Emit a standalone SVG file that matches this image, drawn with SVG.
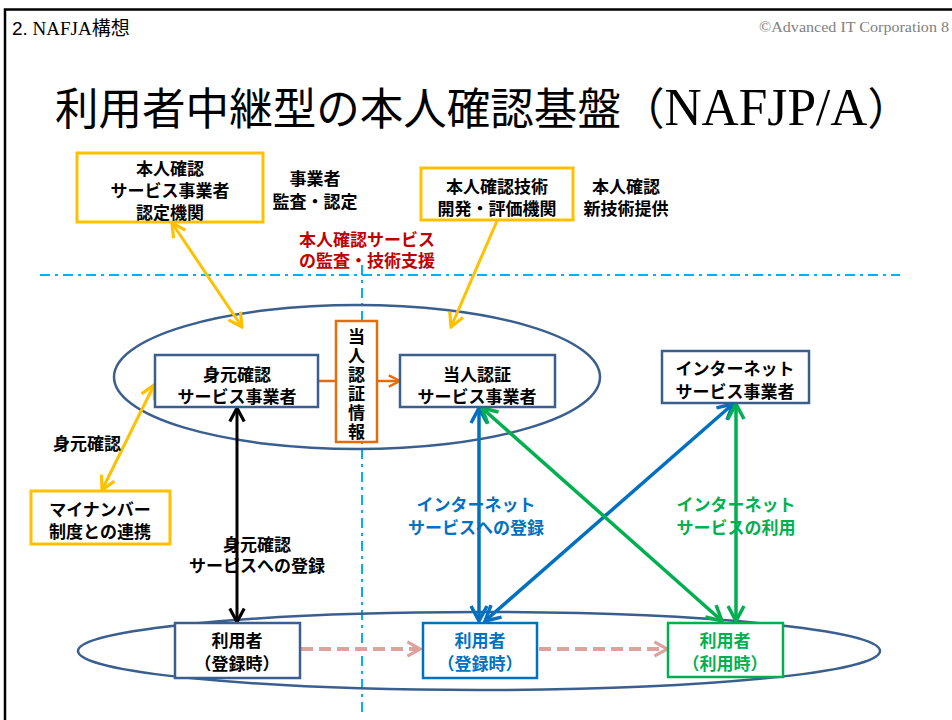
<svg xmlns="http://www.w3.org/2000/svg" width="952" height="720" viewBox="0 0 952 720">
<style>
.jp{font-family:"Noto Sans CJK JP","Noto Sans CJK SC",sans-serif;font-weight:bold;font-size:17px;text-anchor:middle;dominant-baseline:central}
.box{fill:#fff;stroke:#3A5F8F;stroke-width:2.5}
.obox{fill:#fff;stroke:#FFC000;stroke-width:3}
.ell{fill:none;stroke:#3A5F8F;stroke-width:2.5}
.dd{stroke:#00B0F0;stroke-width:2;stroke-dasharray:10 5 3 5;fill:none}
</style>
<defs>
<marker id="m-or" viewBox="0 0 20 20" refX="18" refY="10" markerWidth="18" markerHeight="18" markerUnits="userSpaceOnUse" orient="auto-start-reverse"><path d="M3,2 L18,10 L3,18" fill="none" stroke="#FFC000" stroke-width="3.5"/></marker>
<marker id="m-dor" viewBox="0 0 20 20" refX="18" refY="10" markerWidth="16" markerHeight="16" markerUnits="userSpaceOnUse" orient="auto-start-reverse"><path d="M4,3 L18,10 L4,17" fill="none" stroke="#E46C0A" stroke-width="3"/></marker>
<marker id="m-bk" viewBox="0 0 20 20" refX="18" refY="10" markerWidth="18" markerHeight="18" markerUnits="userSpaceOnUse" orient="auto-start-reverse"><path d="M3,2 L18,10 L3,18" fill="none" stroke="#000" stroke-width="3.5"/></marker>
<marker id="m-bl" viewBox="0 0 20 20" refX="18" refY="10" markerWidth="20" markerHeight="20" markerUnits="userSpaceOnUse" orient="auto-start-reverse"><path d="M3,2 L18,10 L3,18" fill="none" stroke="#0070C0" stroke-width="3.5"/></marker>
<marker id="m-gr" viewBox="0 0 20 20" refX="18" refY="10" markerWidth="20" markerHeight="20" markerUnits="userSpaceOnUse" orient="auto-start-reverse"><path d="M3,2 L18,10 L3,18" fill="none" stroke="#00B050" stroke-width="3.5"/></marker>
<marker id="m-pk" viewBox="0 0 20 20" refX="18" refY="10" markerWidth="18" markerHeight="18" markerUnits="userSpaceOnUse" orient="auto"><path d="M4,2 L18,10 L4,18" fill="none" stroke="#E0A09C" stroke-width="3.5"/></marker>
</defs>
<rect width="952" height="720" fill="#fff"/>
<!-- slide frame -->
<path d="M5,720 V9.5 H952" fill="none" stroke="#000" stroke-width="2.5"/>
<text x="12" y="35" font-family="'Liberation Serif','Noto Sans CJK JP',serif" font-size="19"><tspan font-family="'Liberation Sans',sans-serif">2.</tspan> NAFJA構想</text>
<text x="759" y="32" textLength="190" lengthAdjust="spacingAndGlyphs" font-family="'Liberation Serif',serif" font-size="14.5" fill="#808080">©Advanced IT Corporation  8</text>
<text x="55" y="125" textLength="856" lengthAdjust="spacingAndGlyphs" font-family="'Noto Sans CJK JP',sans-serif" font-size="44">利用者中継型の本人確認基盤（<tspan font-family="'Liberation Serif',serif" font-size="52">NAFJP/A</tspan>）</text>

<!-- background guides -->
<g id="guides">
<line class="dd" x1="40" y1="275" x2="900" y2="275"/>
<line class="dd" x1="362" y1="265" x2="362" y2="712"/>
<ellipse id="ellipse-top" class="ell" cx="357" cy="377" rx="243" ry="72"/>
<ellipse id="ellipse-bottom" class="ell" cx="479" cy="651" rx="401" ry="39"/>
</g>

<g id="connectors" fill="none">
<line x1="172" y1="223" x2="242" y2="327" stroke="#FFC000" stroke-width="3" marker-start="url(#m-or)" marker-end="url(#m-or)"/>
<line x1="497" y1="221" x2="451" y2="327" stroke="#FFC000" stroke-width="3" marker-end="url(#m-or)"/>
<line x1="154" y1="385" x2="102" y2="490" stroke="#FFC000" stroke-width="3" marker-start="url(#m-or)" marker-end="url(#m-or)"/>
<line x1="318" y1="381" x2="400" y2="381" stroke="#E46C0A" stroke-width="2.5" marker-end="url(#m-dor)"/>
<line x1="237" y1="408" x2="237" y2="622" stroke="#000" stroke-width="3" marker-start="url(#m-bk)" marker-end="url(#m-bk)"/>
<line x1="479" y1="408" x2="479" y2="621" stroke="#0070C0" stroke-width="3.5" marker-start="url(#m-bl)" marker-end="url(#m-bl)"/>
<line x1="733" y1="404" x2="485" y2="621" stroke="#0070C0" stroke-width="3.5" marker-start="url(#m-bl)" marker-end="url(#m-bl)"/>
<line x1="482" y1="408" x2="722" y2="621" stroke="#00B050" stroke-width="3.5" marker-start="url(#m-gr)" marker-end="url(#m-gr)"/>
<line x1="736" y1="404" x2="736" y2="621" stroke="#00B050" stroke-width="3.5" marker-start="url(#m-gr)" marker-end="url(#m-gr)"/>
<line x1="301" y1="649" x2="420" y2="649" stroke="#E0A09C" stroke-width="4" stroke-dasharray="12 6" marker-end="url(#m-pk)"/>
<line x1="539" y1="649" x2="667" y2="649" stroke="#E0A09C" stroke-width="4" stroke-dasharray="12 6" marker-end="url(#m-pk)"/>
</g>

<g id="node-nintei">
<rect class="obox" x="77" y="153" width="186" height="69"/>
<text class="jp" x="170" y="167">本人確認<tspan x="170" dy="22">サービス事業者</tspan><tspan x="170" dy="22">認定機関</tspan></text>
</g>
<g id="label-kansa">
<text class="jp" x="315" y="177">事業者<tspan x="315" dy="23">監査・認定</tspan></text>
</g>
<g id="node-kaihatsu">
<rect class="obox" x="421" y="168" width="152" height="52"/>
<text class="jp" x="497" y="185">本人確認技術<tspan x="497" dy="22">開発・評価機関</tspan></text>
</g>
<g id="label-shingijutsu">
<text class="jp" x="626" y="185">本人確認<tspan x="626" dy="22">新技術提供</tspan></text>
</g>
<g id="label-shien" fill="#C00000">
<text class="jp" x="367" y="238">本人確認サービス<tspan x="367" dy="21">の監査・技術支援</tspan></text>
</g>

<g id="node-mimoto">
<rect class="box" x="155" y="355" width="163" height="52"/>
<text class="jp" x="237" y="373">身元確認<tspan x="237" dy="22">サービス事業者</tspan></text>
</g>
<g id="node-joho">
<rect x="336" y="321" width="41" height="121" fill="#fff" stroke="#E46C0A" stroke-width="2.5"/>
<text class="jp" x="356.5" y="385" writing-mode="vertical-rl" letter-spacing="2">当人認証情報</text>
</g>
<g id="node-tonin">
<rect class="box" x="400" y="355" width="155" height="52"/>
<text class="jp" x="477" y="373">当人認証<tspan x="477" dy="22">サービス事業者</tspan></text>
</g>
<g id="node-internet">
<rect class="box" x="662" y="351" width="147" height="52"/>
<text class="jp" x="735" y="367">インターネット<tspan x="735" dy="23">サービス事業者</tspan></text>
</g>

<g id="label-mimoto">
<text class="jp" x="87" y="442">身元確認</text>
</g>
<g id="node-mynumber">
<rect class="obox" x="31" y="491" width="139" height="53"/>
<text class="jp" x="100" y="508">マイナンバー<tspan x="100" dy="22">制度との連携</tspan></text>
</g>
<g id="label-mimoto-toroku">
<text class="jp" x="257" y="543">身元確認<tspan x="257" dy="21">サービスへの登録</tspan></text>
</g>
<g id="label-internet-toroku" fill="#0070C0">
<text class="jp" x="476" y="503">インターネット<tspan x="476" dy="23">サービスへの登録</tspan></text>
</g>
<g id="label-internet-riyo" fill="#00B050">
<text class="jp" x="736" y="503">インターネット<tspan x="736" dy="23">サービスの利用</tspan></text>
</g>

<g id="node-user1">
<rect class="box" x="175" y="623" width="125" height="55"/>
<text class="jp" x="237" y="639">利用者<tspan x="237" dy="23">（登録時）</tspan></text>
</g>
<g id="node-user2" fill="#0070C0">
<rect x="423" y="623" width="114" height="55" fill="#fff" stroke="#0070C0" stroke-width="2.5"/>
<text class="jp" x="480" y="639">利用者<tspan x="480" dy="23">（登録時）</tspan></text>
</g>
<g id="node-user3" fill="#00B050">
<rect x="668" y="623" width="115" height="54" fill="#fff" stroke="#00B050" stroke-width="2.5"/>
<text class="jp" x="725" y="639">利用者<tspan x="725" dy="23">（利用時）</tspan></text>
</g>
</svg>
